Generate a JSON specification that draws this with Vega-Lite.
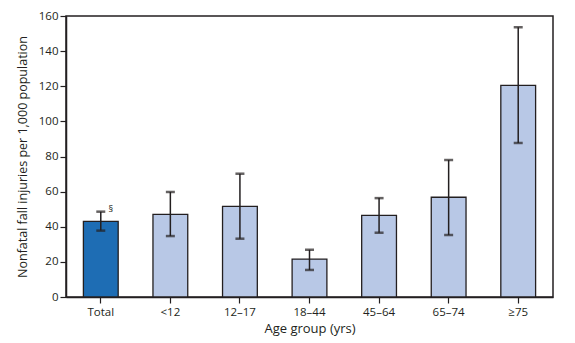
{
  "$schema": "https://vega.github.io/schema/vega-lite/v6.json",
  "autosize": {"type": "none"},
  "padding": {"left": 66, "top": 16, "right": 22, "bottom": 46},
  "width": 487,
  "height": 281,
  "background": "white",
  "config": {
    "font": "Open Sans",
    "view": {"stroke": "#231f20", "strokeWidth": 1.5},
    "axis": {
      "domainColor": "#231f20", "domainWidth": 1.5,
      "tickColor": "#231f20", "tickWidth": 1.2, "tickSize": 6,
      "labelColor": "#231f20", "labelFontSize": 11.5, "labelFont": "Open Sans", "labelOverlap": false,
      "titleColor": "#231f20", "titleFontSize": 12.5, "titleFont": "Open Sans", "titleFontWeight": "normal",
      "grid": false
    },
    "axisY": {"values": [0, 20, 40, 60, 80, 100, 120, 140, 160], "labelPadding": 2, "titlePadding": 9}
  },
  "data": {
    "values": [
      {"group": "Total", "rate": 43.1, "lo": 37.8, "hi": 48.6, "kind": "total", "note": "§"},
      {"group": "<12", "rate": 47.1, "lo": 34.7, "hi": 59.8, "kind": "age", "note": ""},
      {"group": "12–17", "rate": 51.6, "lo": 33.2, "hi": 70.2, "kind": "age", "note": ""},
      {"group": "18–44", "rate": 21.6, "lo": 15.4, "hi": 26.9, "kind": "age", "note": ""},
      {"group": "45–64", "rate": 46.5, "lo": 36.6, "hi": 56.3, "kind": "age", "note": ""},
      {"group": "65–74", "rate": 56.8, "lo": 35.3, "hi": 78.0, "kind": "age", "note": ""},
      {"group": "≥75", "rate": 120.5, "lo": 87.7, "hi": 153.6, "kind": "age", "note": ""}
    ]
  },
  "encoding": {
    "x": {
      "field": "group", "type": "nominal", "sort": null,
      "scale": {"paddingInner": 0.5, "paddingOuter": 0.25},
      "axis": {"labelAngle": 0, "title": "Age group (yrs)", "labelPadding": 3, "titlePadding": 5, "titleFontSize": 13}
    }
  },
  "layer": [
    {
      "mark": {"type": "bar", "stroke": "#231f20", "strokeWidth": 1.3},
      "encoding": {
        "y": {
          "field": "rate", "type": "quantitative",
          "scale": {"domain": [0, 160], "nice": false},
          "title": "Nonfatal fall injuries per 1,000 population"
        },
        "color": {
          "field": "kind", "type": "nominal",
          "scale": {"domain": ["total", "age"], "range": ["#1e6db4", "#b8c8e6"]},
          "legend": null
        }
      }
    },
    {
      "mark": {"type": "rule", "color": "#231f20", "strokeWidth": 1.5},
      "encoding": {
        "y": {"field": "lo", "type": "quantitative", "title": "Nonfatal fall injuries per 1,000 population"},
        "y2": {"field": "hi"}
      }
    },
    {
      "mark": {"type": "tick", "color": "#231f20", "thickness": 2.5, "size": 9},
      "encoding": {"y": {"field": "hi", "type": "quantitative", "title": "Nonfatal fall injuries per 1,000 population"}}
    },
    {
      "mark": {"type": "tick", "color": "#231f20", "thickness": 2.5, "size": 9},
      "encoding": {"y": {"field": "lo", "type": "quantitative", "title": "Nonfatal fall injuries per 1,000 population"}}
    },
    {
      "mark": {"type": "text", "color": "#231f20", "fontSize": 9, "dx": 10, "dy": -3, "align": "center", "baseline": "middle"},
      "encoding": {
        "y": {"field": "hi", "type": "quantitative", "title": "Nonfatal fall injuries per 1,000 population"},
        "text": {"field": "note"}
      }
    }
  ]
}
